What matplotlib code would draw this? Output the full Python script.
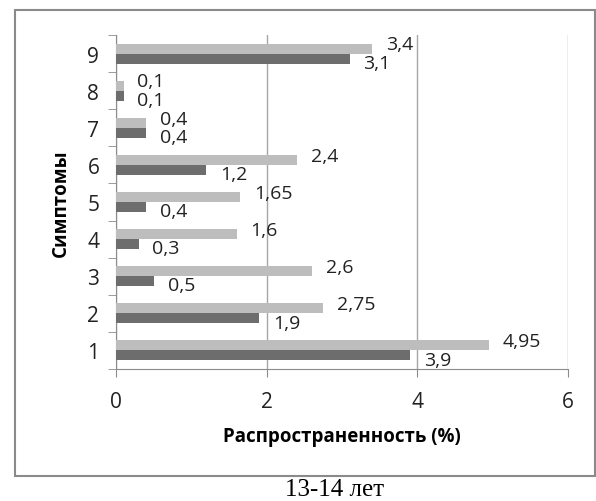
import matplotlib.pyplot as plt
from matplotlib.patches import Rectangle
import numpy as np

# распространенность симптомов, 13-14 лет
symptoms = [1, 2, 3, 4, 5, 6, 7, 8, 9]
series_light = [4.95, 2.75, 2.6, 1.6, 1.65, 2.4, 0.4, 0.1, 3.4]
series_dark = [3.9, 1.9, 0.5, 0.3, 0.4, 1.2, 0.4, 0.1, 3.1]
x_ticks = [0, 2, 4, 6]

light = '#bdbdbd'
dark = '#6d6d6d'
font = ['Open Sans', 'DejaVu Sans']
plt.rcParams['font.family'] = font

fig = plt.figure(figsize=(5.96, 5.02), dpi=100)
ax = fig.add_axes([116 / 596, 1 - 370 / 502, 452 / 596, 334 / 502])

y = np.array(symptoms, dtype=float)
h = 0.27
ax.barh(y + h / 2, series_light, height=h, color=light, zorder=3)
ax.barh(y - h / 2, series_dark, height=h, color=dark, zorder=3)


def fmt(v):
    return ('%g' % v).replace('.', ',')


for yi, v in zip(y, series_light):
    ax.annotate(fmt(v), (v, yi + h / 2), xytext=(10, 3), textcoords='offset points',
                va='center', ha='left', fontsize=14, color='#222222')
for yi, v in zip(y, series_dark):
    ax.annotate(fmt(v), (v, yi - h / 2), xytext=(10, -3), textcoords='offset points',
                va='center', ha='left', fontsize=14, color='#222222')

ax.set_xlim(0, 6)
ax.set_ylim(0.5, 9.5)
ax.set_xticks(x_ticks)
ax.set_xticklabels([str(t) for t in x_ticks], fontsize=15, color='#222222')
ax.set_yticks(symptoms)
ax.set_yticklabels([str(s) for s in symptoms], fontsize=15, color='#222222')
ax.set_yticks(np.arange(0.5, 10, 1), minor=True)
ax.tick_params(axis='y', which='major', length=0, pad=12)
ax.tick_params(axis='y', which='minor', length=6, color='#8c8c8c', direction='out')
ax.tick_params(axis='x', length=6, color='#8c8c8c', direction='out', pad=10)

ax.grid(axis='x', color='#a6a6a6', linewidth=1, zorder=0)
for s in ['top', 'right']:
    ax.spines[s].set_visible(False)
for s in ['left', 'bottom']:
    ax.spines[s].set_color('#8c8c8c')

ax.set_xlabel('Распространенность (%)', fontsize=13.5, fontweight='bold', labelpad=10)
ax.set_ylabel('Симптомы', fontsize=13.5, fontweight='bold', labelpad=12)

# рамка диаграммы
fig.patches.append(Rectangle((15 / 596, 1 - 477 / 502), 580 / 596, 466 / 502,
                             transform=fig.transFigure, fill=False,
                             edgecolor='#8a8a8a', linewidth=1.5))

fig.text(335 / 596, 1 - 496 / 502, '13-14 лет', ha='center', va='baseline',
         fontsize=18, family=['Liberation Serif', 'DejaVu Serif'])

fig.savefig('out.png', dpi=100)
